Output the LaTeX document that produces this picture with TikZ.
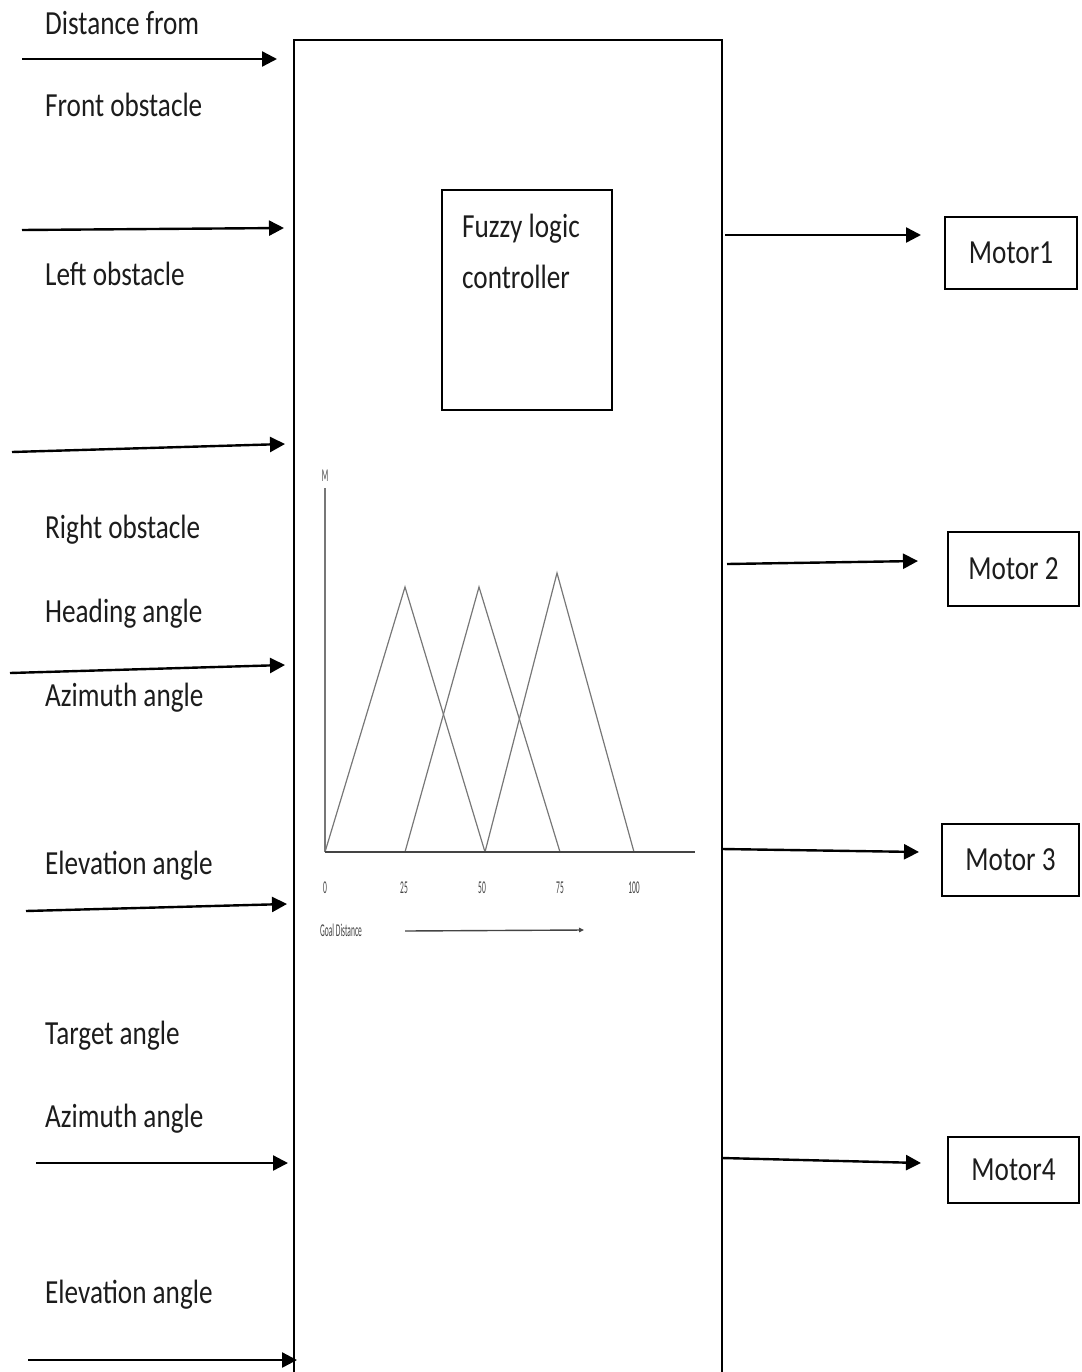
\documentclass[tikz,border=0pt]{standalone}
\usepackage{fontspec}
\setmainfont{Carlito}
\usepackage{graphicx}
\usetikzlibrary{arrows.meta}
\definecolor{txt}{HTML}{1C1C1C}
\definecolor{chartc}{HTML}{777777}
\definecolor{axisc}{HTML}{444444}
\newcommand\vs[1]{\scalebox{1}[1.24]{#1}}
\newcommand\smt[1]{\scalebox{1}[2.4]{#1}}
\begin{document}
\begin{tikzpicture}[x=1pt,y=-1pt,
  lbl/.style={anchor=base west, inner sep=0pt, text=txt, font=\fontsize{27.2}{32}\selectfont},
  arr/.style={line width=2.4pt, -{Triangle[length=15pt,width=15pt]}},
  motorbox/.style={draw, line width=1.8pt, inner sep=0pt, text=txt, font=\fontsize{27.2}{32}\selectfont},
  curve/.style={draw=chartc, line width=1.2pt},
  axisline/.style={draw=axisc, line width=2pt},
  sml/.style={inner sep=0pt, text=axisc, font=\fontsize{7.5}{9}\selectfont},
]
\useasboundingbox (0,0) rectangle (1081,1372);

% main block (open at the bottom)
\coordinate (mbl) at (294,1380);
\coordinate (mtl) at (294,40);
\coordinate (mtr) at (722,40);
\coordinate (mbr) at (722,1380);
\draw[line width=2pt] (mbl) -- (mtl) -- (mtr) -- (mbr);

% fuzzy logic controller box
\node[draw, line width=1.8pt, minimum width=170pt, minimum height=220pt, inner sep=0pt] (flc) at (527,300) {};
\node[lbl] (flct1) at (462,237) {\vs{Fuzzy logic}};
\node[lbl] (flct2) at (462,288) {\vs{controller}};

% input labels
\node[lbl] (l1) at (45,35) {\vs{Distance from}};
\node[lbl] (l2) at (45,117) {\vs{Front obstacle}};
\node[lbl] (l3) at (45,285) {\vs{Left obstacle}};
\node[lbl] (l4) at (45,538) {\vs{Right obstacle}};
\node[lbl] (l5) at (45,622) {\vs{Heading angle}};
\node[lbl] (l6) at (45,706) {\vs{Azimuth angle}};
\node[lbl] (l7) at (45,874) {\vs{Elevation angle}};
\node[lbl] (l8) at (45,1044) {\vs{Target angle}};
\node[lbl] (l9) at (45,1127) {\vs{Azimuth angle}};
\node[lbl] (l10) at (45,1303) {\vs{Elevation angle}};

% input arrows
\coordinate (i1s) at (22,59);   \coordinate (i1e) at (277,59);
\coordinate (i2s) at (22,230);  \coordinate (i2e) at (284,228);
\coordinate (i3s) at (12,452);  \coordinate (i3e) at (285,444);
\coordinate (i4s) at (10,673);  \coordinate (i4e) at (285,665);
\coordinate (i5s) at (26,911);  \coordinate (i5e) at (287,904);
\coordinate (i6s) at (36,1163); \coordinate (i6e) at (288,1163);
\coordinate (i7s) at (28,1360); \coordinate (i7e) at (297,1360);
\foreach \k in {1,...,7} { \draw[arr] (i\k s) -- (i\k e); }

% motors
\node[motorbox, minimum width=132pt, minimum height=72pt] (m1) at (1011,253) {\vs{Motor1}\hspace{4pt}};
\node[motorbox, minimum width=131pt, minimum height=74pt] (m2) at (1013.5,569) {\vs{Motor 2}\hspace{4pt}};
\node[motorbox, minimum width=137pt, minimum height=72pt] (m3) at (1010.5,860) {\vs{Motor 3}\hspace{6pt}};
\node[motorbox, minimum width=131pt, minimum height=66pt] (m4) at (1013.5,1170) {\vs{Motor4}\hspace{4pt}};

% output arrows
\coordinate (o1s) at (725,235);  \coordinate (o1e) at (921,235);
\coordinate (o2s) at (727,564);  \coordinate (o2e) at (918,561);
\coordinate (o3s) at (722,849);  \coordinate (o3e) at (919,852);
\coordinate (o4s) at (722,1158); \coordinate (o4e) at (921,1163);
\foreach \k in {1,...,4} { \draw[arr] (o\k s) -- (o\k e); }

% membership function chart
\coordinate (org) at (325,852);
\coordinate (ytop) at (325,488);
\coordinate (xend) at (695,852);
\coordinate (t0) at (325,852);
\coordinate (t25) at (405,852);
\coordinate (t50) at (485,852);
\coordinate (t75) at (560,852);
\coordinate (t100) at (634,852);
\coordinate (p1) at (405,587);
\coordinate (p2) at (479,587);
\coordinate (p3) at (557,573);
\draw[curve] (t0) -- (p1) -- (t50);
\draw[curve] (t25) -- (p2) -- (t75);
\draw[curve] (t50) -- (p3) -- (t100);
\draw[draw=chartc, line width=1.4pt] (org) -- (ytop);
\draw[axisline] (org) -- (xend);
\node[sml, anchor=base] (ml) at (325,481) {\smt{M}};
\node[sml, anchor=base] (n0) at (325,893) {\smt{0}};
\node[sml, anchor=base] (n25) at (404,893) {\smt{25}};
\node[sml, anchor=base] (n50) at (482,893) {\smt{50}};
\node[sml, anchor=base] (n75) at (560,893) {\smt{75}};
\node[sml, anchor=base] (n100) at (634,893) {\smt{100}};
\node[sml, anchor=base west] (gd) at (320,936) {\smt{Goal Distance}};
\coordinate (gas) at (405,931);
\coordinate (gae) at (584,930);
\draw[line width=1.4pt, draw=axisc, -{Triangle[length=5pt,width=4.5pt]}] (gas) -- (gae);
\end{tikzpicture}
\end{document}
